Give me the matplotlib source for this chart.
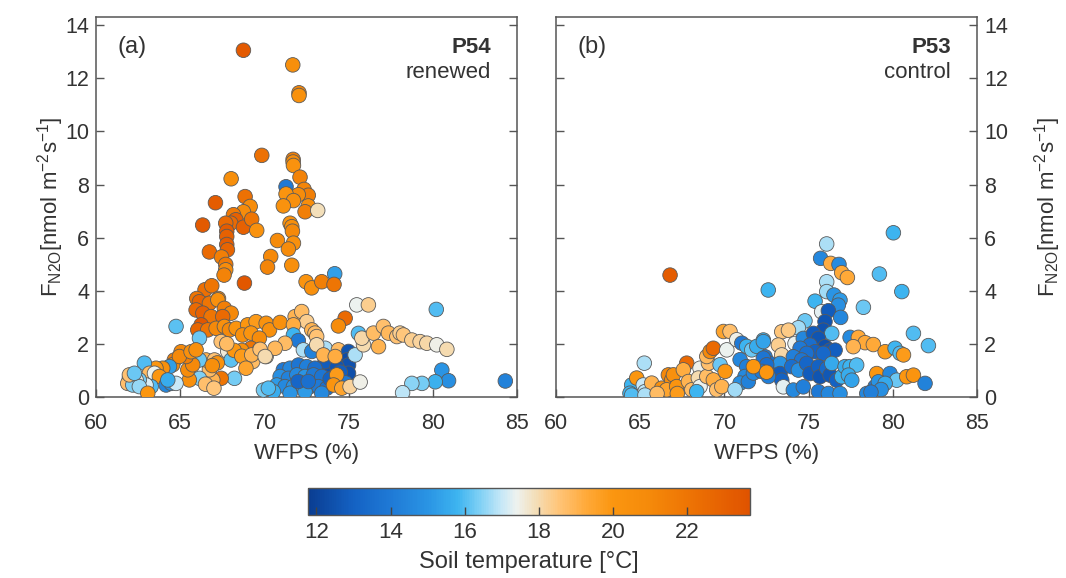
import matplotlib

matplotlib.use("Agg")
import matplotlib.pyplot as plt
import numpy as np
from matplotlib.colors import LinearSegmentedColormap, Normalize

plt.rcParams["font.family"] = ["Liberation Sans", "DejaVu Sans"]
plt.rcParams["mathtext.fontset"] = "custom"
plt.rcParams["mathtext.rm"] = "Liberation Sans"
plt.rcParams["mathtext.it"] = "Liberation Sans:italic"

TXT = "#333333"
SPINE = "#555555"
FS = 16

# ---- panel (a): P54 renewed ----
wfps_a = [
    68.75, 71.68, 72.05, 72.05, 69.84, 71.7, 71.7, 71.72, 68.02, 72.11,
    71.28, 72.35, 72.6, 72.01, 71.28, 71.72, 71.12, 72.6, 72.41, 73.16,
    67.09, 66.33, 68.85, 69.15, 68.75, 68.16, 68.3, 68.0, 67.7, 68.75,
    69.24, 69.54, 67.76, 67.76, 67.76, 67.8, 66.73, 67.45, 67.7, 67.7,
    67.6, 70.77, 70.37, 70.18, 71.52, 71.62, 71.66, 71.72, 71.42, 71.62,
    68.81, 72.47, 72.8, 73.4, 74.17, 74.13, 66.47, 66.87, 65.98, 67.27,
    66.14, 66.73, 67.23, 65.94, 66.34, 66.83, 67.62, 68.02, 67.52, 66.24,
    66.04, 66.63, 67.13, 67.62, 67.92, 68.32, 69.0, 69.5, 70.1, 70.3,
    68.7, 69.2, 69.7, 69.2, 69.7, 70.1, 69.3, 67.82, 67.43, 68.02,
    68.22, 67.43, 66.93, 66.73, 66.53, 67.03, 66.14, 66.14, 66.14, 65.54,
    65.45, 65.74, 65.35, 65.05, 64.65, 64.55, 64.95, 64.75, 65.64, 65.94,
    64.36, 63.96, 63.56, 62.87, 63.17, 63.47, 63.76, 64.16, 64.46, 64.75,
    63.27, 62.97, 62.57, 62.38, 61.98, 61.88, 62.18, 62.57, 61.98, 62.28,
    63.07, 64.26, 68.65, 68.2, 68.65, 69.24, 67.76, 67.2, 66.9, 68.9,
    66.5, 67.0,
    75.48, 76.17, 74.79, 74.39, 70.93, 71.82, 72.21, 72.51, 71.72, 72.81,
    73.0, 73.1, 71.72, 72.01, 71.22, 70.63, 69.74, 70.04, 72.31, 72.81,
    73.6, 73.1, 74.39, 74.99, 74.89, 74.99, 74.99, 75.38, 75.58, 75.88,
    75.78, 76.77, 76.47, 77.06, 77.36, 77.86, 78.05, 78.25, 78.75, 79.24,
    79.64, 80.23, 80.83, 73.5, 73.6, 74.3,
    71.12, 71.52, 72.02, 72.51, 73.0, 70.93, 71.42, 71.92, 72.41, 72.91,
    73.4, 70.73, 71.22, 71.72, 72.21, 72.71, 73.2, 73.7, 70.53, 71.52,
    72.41, 73.4, 69.94, 70.23, 72.0, 72.6, 73.9, 74.5, 74.4, 74.8,
    74.29, 74.1, 74.59, 75.08, 75.68, 73.5, 74.2,
    80.2, 80.53, 80.93, 80.14, 79.35, 78.75, 78.2, 84.3,
]
flux_a = [
    13.05, 12.5, 11.45, 11.35, 9.1, 8.95, 8.85, 8.72, 8.22, 8.28,
    7.92, 7.82, 7.6, 7.62, 7.65, 7.4, 7.2, 7.2, 6.98, 7.03,
    7.32, 6.48, 7.55, 7.18, 6.98, 6.87, 6.68, 6.55, 6.55, 6.4,
    6.7, 6.28, 6.25, 6.05, 5.75, 5.55, 5.47, 5.28, 5.0, 4.8,
    4.6, 5.9, 5.3, 4.9, 6.55, 6.42, 6.25, 5.8, 5.58, 4.97,
    4.3, 4.35, 4.12, 4.35, 4.65, 4.25, 4.05, 4.2, 3.72, 3.72,
    3.6, 3.54, 3.67, 3.29, 3.17, 3.04, 3.35, 3.17, 3.04, 2.73,
    2.54, 2.54, 2.6, 2.67, 2.54, 2.6, 2.73, 2.85, 2.79, 2.54,
    2.35, 2.42, 2.23, 1.85, 1.79, 1.54, 1.35, 1.73, 2.1, 1.41,
    0.72, 0.72, 0.66, 1.04, 1.41, 1.41, 1.41, 2.23, 0.72, 0.66,
    1.04, 1.23, 1.54, 1.72, 1.41, 1.23, 1.54, 2.67, 1.72, 1.79,
    1.16, 1.1, 1.1, 1.29, 0.91, 0.91, 0.79, 0.47, 0.53, 0.53,
    0.41, 0.47, 0.66, 0.66, 0.72, 0.53, 0.47, 0.41, 0.85, 0.91,
    0.16, 0.66, 1.77, 1.77, 1.55, 1.6, 2.02, 1.3, 1.2, 1.1,
    0.5, 0.35,
    3.48, 3.48, 2.98, 2.69, 2.82, 3.04, 3.23, 2.85, 2.73, 2.54,
    2.42, 2.29, 2.35, 2.14, 2.04, 1.85, 1.81, 1.54, 1.79, 1.73,
    1.85, 1.98, 1.79, 1.73, 1.41, 1.22, 0.91, 1.6, 2.41, 1.98,
    2.23, 1.91, 2.42, 2.67, 2.42, 2.29, 2.42, 2.35, 2.16, 2.1,
    2.04, 1.98, 1.81, 1.1, 1.35, 1.15,
    1.04, 1.1, 1.22, 1.16, 1.1, 0.79, 0.72, 0.85, 0.79, 0.85,
    0.79, 0.47, 0.41, 0.41, 0.47, 0.41, 0.41, 0.35, 0.22, 0.16,
    0.22, 0.16, 0.28, 0.35, 0.6, 0.6, 0.7, 0.95, 0.6, 0.55,
    0.85, 0.47, 0.35, 0.41, 0.58, 1.6, 1.54,
    3.31, 1.03, 0.63, 0.59, 0.53, 0.53, 0.18, 0.62,
]
temp_a = [
    23.3, 20.6, 21.2, 20.4, 22.2, 21.5, 20.8, 20.3, 20.6, 21.3,
    14.0, 21.2, 21.5, 20.8, 20.2, 20.5, 20.3, 20.7, 21.5, 17.9,
    23.2, 23.3, 22.2, 20.8, 20.8, 21.8, 23.0, 22.5, 22.5, 23.0,
    22.0, 20.3, 23.2, 23.0, 23.2, 22.8, 22.5, 21.5, 21.8, 20.8,
    21.3, 20.8, 21.0, 21.2, 20.3, 20.6, 21.0, 20.5, 20.8, 20.6,
    23.5, 20.2, 20.5, 21.5, 15.3, 22.0, 22.3, 22.0, 22.0, 21.0,
    22.8, 22.0, 20.5, 22.5, 23.0, 22.0, 21.5, 21.0, 22.5, 23.5,
    22.8, 22.0, 21.0, 20.5, 21.0, 20.2, 20.0, 19.8, 20.3, 20.5,
    20.5, 20.2, 20.8, 22.0, 18.4, 18.0, 18.8, 17.6, 18.6, 16.1,
    16.3, 22.0, 19.0, 18.8, 19.0, 18.6, 16.2, 16.2, 16.4, 20.5,
    20.8, 21.0, 21.5, 21.0, 21.5, 20.8, 21.0, 16.1, 20.5, 20.5,
    15.3, 20.5, 20.0, 16.0, 18.8, 17.4, 20.0, 14.5, 14.8, 17.0,
    16.0, 17.2, 16.3, 17.6, 18.5, 18.7, 16.4, 16.6, 18.6, 16.2,
    20.0, 15.6, 20.5, 20.0, 19.8, 19.0, 18.8, 20.3, 20.6, 19.5,
    18.7, 18.5,
    17.4, 18.3, 22.5, 20.8, 20.5, 19.0, 18.8, 18.3, 19.2, 19.0,
    18.8, 18.6, 15.8, 14.0, 18.8, 18.9, 18.6, 18.0, 16.8, 14.3,
    16.8, 18.0, 18.8, 12.6, 12.3, 12.5, 12.4, 16.8, 16.0, 18.0,
    18.1, 19.0, 18.8, 18.7, 18.9, 18.6, 18.3, 18.5, 18.3, 18.2,
    18.1, 17.5, 18.0, 12.5, 12.8, 12.6,
    14.0, 14.5, 13.8, 14.2, 13.5, 14.8, 14.3, 14.6, 15.0, 14.0,
    13.8, 15.2, 14.6, 14.9, 15.3, 14.4, 14.0, 13.6, 15.6, 15.0,
    15.2, 14.6, 16.3, 16.0, 13.2, 13.6, 13.0, 12.9, 13.5, 14.0,
    19.8, 20.2, 19.5, 18.2, 17.5, 19.0, 19.2,
    16.0, 15.0, 14.8, 15.7, 16.3, 16.5, 16.9, 14.3,
]

# ---- panel (b): P53 control ----
wfps_b = [
    66.77, 76.07, 80.03, 75.71, 76.31, 76.8, 76.96, 77.3, 79.2, 72.6,
    80.53, 76.07, 76.07, 76.5, 76.86, 76.76, 75.38, 75.77, 76.17, 76.9,
    75.97, 75.87, 78.25, 74.78, 74.39, 76.37, 81.22, 82.11, 77.46, 77.95,
    78.35, 78.84, 77.65, 79.54, 80.13, 80.43, 80.63, 73.4, 73.8, 73.2,
    73.4, 74.19, 74.68, 72.31, 75.28, 75.58, 75.97, 76.27, 76.57, 75.08,
    75.38, 75.87, 74.49, 74.88, 74.09, 74.58, 72.41, 72.7, 72.31, 72.9,
    73.3, 73.3, 73.4, 73.5,
    73.99, 74.39, 74.88, 75.08, 75.58, 75.67, 76.07, 76.27, 76.37, 76.66,
    76.96, 77.16, 77.46, 77.85, 77.36, 77.56,
    79.04, 79.83, 80.23, 80.82, 81.22, 81.91,
    78.45, 78.94, 79.14, 79.54, 79.3, 78.7,
    74.09, 74.68, 75.58, 76.17, 76.86,
    65.24, 64.49, 64.39, 64.79, 65.18, 65.28, 65.68, 66.27, 66.67, 66.87,
    66.97, 66.57, 67.16, 67.76, 67.56, 67.86, 68.06, 68.55, 68.45, 68.55,
    68.95, 69.34, 69.54, 69.05, 68.95, 69.15, 69.34, 69.74, 70.04, 68.35,
    69.84, 70.14, 69.94, 70.33, 70.73, 71.03, 71.32, 71.62, 71.92, 72.31,
    70.93, 71.32, 71.22, 70.93, 71.42, 71.72, 70.63, 72.31, 72.51, 72.21,
    72.61, 71.72, 72.5, 64.49, 65.28, 67.2, 66.0,
]
flux_b = [
    4.6, 5.77, 6.19, 5.23, 5.04, 5.0, 4.69, 4.51, 4.64, 4.04,
    3.98, 4.35, 3.98, 3.85, 3.66, 3.47, 3.62, 3.22, 3.26, 3.01,
    2.85, 2.53, 3.39, 2.88, 2.62, 2.41, 2.41, 1.95, 2.26, 2.26,
    2.06, 1.99, 1.91, 1.72, 1.85, 1.66, 1.6, 2.47, 2.53, 1.97,
    1.6, 2.03, 2.22, 2.16, 2.41, 2.22, 1.91, 1.78, 1.78, 1.97,
    1.72, 1.66, 1.85, 1.66, 1.53, 1.41, 1.53, 1.28, 1.16, 0.97,
    1.28, 0.9, 0.65, 0.4,
    1.16, 1.03, 1.28, 0.9, 1.16, 0.78, 1.09, 0.84, 1.28, 0.65,
    0.78, 1.16, 1.16, 1.22, 0.84, 0.65,
    0.9, 0.9, 0.65, 0.78, 0.84, 0.53,
    0.15, 0.4, 0.59, 0.53, 0.3, 0.2,
    0.28, 0.4, 0.22, 0.15, 0.15,
    1.29, 0.47, 0.16, 0.73, 0.47, 0.22, 0.54, 0.35, 0.85, 0.66,
    0.85, 0.29, 0.41, 1.29, 1.04, 0.6, 0.29, 1.1, 0.73, 0.41,
    0.79, 0.66, 0.29, 1.29, 1.54, 1.73, 1.85, 1.23, 0.98, 0.22,
    0.41, 1.79, 2.48, 2.48, 2.17, 2.04, 1.92, 1.79, 1.92, 2.1,
    1.42, 1.16, 0.79, 0.54, 0.6, 0.92, 0.29, 1.48, 1.23, 0.98,
    0.79, 1.16, 0.95, 0.09, 0.09, 0.15, 0.15,
]
temp_b = [
    23.2, 16.8, 15.8, 14.5, 19.2, 14.7, 19.3, 19.3, 16.0, 15.8,
    15.8, 16.8, 16.7, 15.0, 15.2, 14.8, 15.8, 17.3, 12.8, 14.5,
    12.6, 12.5, 16.2, 16.2, 16.7, 16.0, 16.0, 16.0, 14.7, 19.3,
    19.3, 19.3, 19.0, 19.8, 15.8, 16.0, 19.8, 18.5, 18.4, 18.3,
    18.1, 17.4, 14.5, 15.8, 12.8, 12.6, 12.4, 12.7, 12.9, 13.5,
    13.0, 13.3, 14.0, 13.6, 14.2, 13.8, 14.0, 13.5, 14.6, 13.2,
    15.0, 12.8, 13.0, 17.3,
    13.5, 14.8, 13.2, 12.8, 13.0, 12.6, 13.4, 12.7, 15.5, 13.0,
    15.8, 15.6, 15.8, 16.0, 15.6, 15.4,
    20.0, 14.5, 16.2, 20.0, 20.2, 14.3,
    14.5, 14.0, 15.0, 15.5, 14.8, 14.2,
    14.6, 14.2, 14.0, 14.5, 14.8,
    16.8, 15.8, 15.8, 20.0, 17.0, 16.9, 19.0, 20.5, 21.0, 20.8,
    20.5, 19.5, 20.2, 22.5, 19.2, 19.0, 18.8, 17.5, 18.0, 17.4,
    18.8, 19.2, 18.7, 18.7, 18.9, 21.0, 22.5, 16.2, 20.0, 15.8,
    19.0, 17.4, 19.5, 18.7, 17.5, 14.0, 15.8, 16.2, 15.6, 15.4,
    14.5, 14.2, 14.6, 14.8, 14.3, 14.5, 16.7, 13.8, 13.5, 14.0,
    14.2, 20.0, 20.0, 16.0, 16.8, 19.8, 18.8,
]

t_min, t_max = 11.77, 23.7
cbar_ticks = [12, 14, 16, 18, 20, 22]

# colour ramp: dark blue -> light blue -> white -> beige -> orange -> dark orange
ramp = [
    (11.77, "#0a3d91"), (13.0, "#1462c4"), (14.0, "#1f7ad6"), (15.0, "#2a94e4"),
    (15.8, "#3db4f0"), (16.4, "#7fd0f5"), (17.0, "#c7e8f7"), (17.4, "#eef2ef"),
    (17.9, "#f3dfba"), (18.5, "#ffc67c"), (19.3, "#ffa938"), (20.0, "#fb9610"),
    (21.0, "#f58a0a"), (22.0, "#ee7504"), (23.7, "#e05300"),
]
cmap = LinearSegmentedColormap.from_list(
    "soil", [((v - t_min) / (t_max - t_min), c) for v, c in ramp])
norm = Normalize(t_min, t_max)

fig = plt.figure(figsize=(10.66, 5.78), dpi=100)
ax_a = fig.add_axes([0.0901, 0.3123, 0.395, 0.6583])
ax_b = fig.add_axes([0.5216, 0.3123, 0.395, 0.6583])

for ax, x, y, t in [(ax_a, wfps_a, flux_a, temp_a), (ax_b, wfps_b, flux_b, temp_b)]:
    sc = ax.scatter(x, y, c=t, cmap=cmap, norm=norm, s=110,
                    edgecolors="#5a5a5a", linewidths=0.6, zorder=3)
    ax.set_xlim(60, 85)
    ax.set_ylim(0, 14.3)
    ax.set_xticks(np.arange(60, 86, 5))
    ax.set_yticks(np.arange(0, 15, 2))
    ax.set_xlabel("WFPS (%)", fontsize=FS, color=TXT, labelpad=7)
    ax.tick_params(direction="in", length=6, width=1, color=SPINE,
                   labelsize=15.5, labelcolor=TXT, left=True, right=True, pad=5)
    ax.tick_params(axis="x", pad=11)
    for sp in ax.spines.values():
        sp.set_color(SPINE)
        sp.set_linewidth(1.1)

ylab = "F$_{\\mathrm{N2O}}$[nmol m$^{-2}$s$^{-1}$]"
ax_a.set_ylabel(ylab, fontsize=FS, color=TXT, labelpad=-1)
ax_b.tick_params(labelleft=False, labelright=True)
ax_b.yaxis.set_label_position("right")
ax_b.set_ylabel(ylab, fontsize=FS, color=TXT, labelpad=17)

ax_a.text(0.05, 0.92, "(a)", transform=ax_a.transAxes, fontsize=17, color=TXT, va="center")
ax_a.text(0.938, 0.92, "P54", transform=ax_a.transAxes, fontsize=FS, color=TXT,
          fontweight="bold", ha="right", va="center")
ax_a.text(0.938, 0.853, "renewed", transform=ax_a.transAxes, fontsize=FS, color=TXT,
          ha="right", va="center")
ax_b.text(0.05, 0.92, "(b)", transform=ax_b.transAxes, fontsize=17, color=TXT, va="center")
ax_b.text(0.938, 0.92, "P53", transform=ax_b.transAxes, fontsize=FS, color=TXT,
          fontweight="bold", ha="right", va="center")
ax_b.text(0.938, 0.853, "control", transform=ax_b.transAxes, fontsize=FS, color=TXT,
          ha="right", va="center")

cax = fig.add_axes([0.2889, 0.109, 0.4146, 0.0467])
cb = fig.colorbar(sc, cax=cax, orientation="horizontal", ticks=cbar_ticks)
cb.outline.set_edgecolor(SPINE)
cb.outline.set_linewidth(1.0)
cax.tick_params(direction="in", length=6, width=1, color="#444444",
                labelsize=FS, labelcolor=TXT, pad=5)
cb.set_label("Soil temperature [°C]", fontsize=17, color=TXT, labelpad=6)

fig.savefig("out.png", dpi=100)
